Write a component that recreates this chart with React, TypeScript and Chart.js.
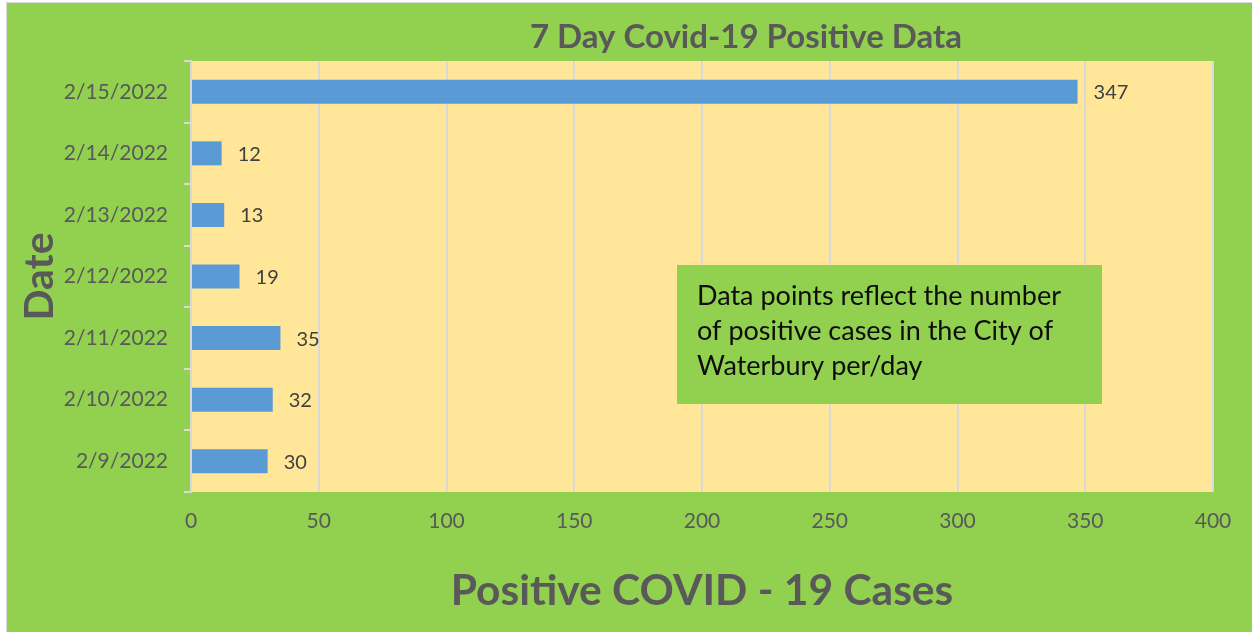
import React, { useEffect, useRef } from "react";
import { Chart, registerables } from "chart.js";

Chart.register(...registerables);

const dates = ["2/9/2022", "2/10/2022", "2/11/2022", "2/12/2022", "2/13/2022", "2/14/2022", "2/15/2022"];
const positiveCases = [30, 32, 35, 19, 13, 12, 347];
const xTickValues = [0, 50, 100, 150, 200, 250, 300, 350, 400];
const chartTitle = "7 Day Covid-19 Positive Data";
const xTitle = "Positive COVID - 19 Cases";
const yTitle = "Date";
const noteLines = ["Data points reflect the number", "of positive cases in the City of", "Waterbury per/day"];

const GREEN = "#92D050";
const PLOT_BG = "#FFE699";
const BAR = "#5B9BD5";
const GRID = "#D9D9D9";
const TEXT = "#595959";
const FONT = "Lato, 'Open Sans', sans-serif";

const decorPlugin = {
  id: "decor",
  beforeDraw(chart: any) {
    const { ctx, width, height, chartArea } = chart;
    ctx.save();
    ctx.fillStyle = "#ffffff";
    ctx.fillRect(0, 0, width, height);
    ctx.fillStyle = GRID;
    ctx.fillRect(6, 2, width - 6, height - 2);
    ctx.fillStyle = GREEN;
    ctx.fillRect(7, 3, width - 7, height - 3);
    ctx.fillStyle = PLOT_BG;
    ctx.fillRect(chartArea.left, chartArea.top, chartArea.right - chartArea.left, chartArea.bottom - chartArea.top);
    ctx.restore();
  },
  afterDraw(chart: any) {
    const { ctx } = chart;
    ctx.save();
    // chart title
    ctx.fillStyle = TEXT;
    ctx.font = `bold 33px ${FONT}`;
    ctx.textAlign = "center";
    ctx.textBaseline = "middle";
    ctx.fillText(chartTitle, 746, 37);

    // data labels
    const meta = chart.getDatasetMeta(0);
    ctx.fillStyle = "#404040";
    ctx.font = `20px ${FONT}`;
    ctx.textAlign = "left";
    meta.data.forEach((bar: any, i: number) => {
      ctx.fillText(String(positiveCases[i]), bar.x + 16, bar.y + 1);
    });

    // note box
    ctx.fillStyle = GREEN;
    ctx.fillRect(677, 265, 425, 139);
    ctx.fillStyle = "#0d0d0d";
    ctx.font = `27px ${FONT}`;
    ctx.textAlign = "left";
    ctx.textBaseline = "middle";
    noteLines.forEach((line, i) => {
      ctx.fillText(line, 697, 296 + i * 35);
    });
    ctx.restore();
  },
};

export default function App() {
  const ref = useRef<HTMLCanvasElement | null>(null);
  useEffect(() => {
    if (!ref.current) return;
    const chart = new Chart(ref.current, {
      type: "bar",
      data: {
        labels: dates,
        datasets: [
          {
            data: positiveCases,
            backgroundColor: BAR,
            borderWidth: 0,
            barPercentage: 0.39,
            categoryPercentage: 1,
          },
        ],
      },
      options: {
        indexAxis: "y",
        responsive: false,
        animation: false,
        devicePixelRatio: 1,
        layout: { padding: { top: 61, right: 39, left: 0, bottom: 0 } },
        plugins: { legend: { display: false }, tooltip: { enabled: false }, title: { display: false } },
        scales: {
          x: {
            type: "linear",
            min: 0,
            max: 400,
            afterBuildTicks(scale: any) {
              scale.ticks = xTickValues.map((v) => ({ value: v }));
            },
            afterFit(scale: any) {
              scale.height = 140;
            },
            grid: { color: GRID, lineWidth: 2, drawTicks: false },
            border: { display: false },
            ticks: { color: TEXT, font: { family: FONT, size: 21 }, padding: 17 },
            title: {
              display: true,
              text: xTitle,
              color: TEXT,
              font: { family: FONT, size: 42.5, weight: "bold" },
              padding: { top: 0, bottom: 15 },
            },
          },
          y: {
            type: "category",
            reverse: true,
            offset: true,
            afterFit(scale: any) {
              scale.width = 191;
            },
            grid: { offset: true, drawOnChartArea: false, drawTicks: true, tickLength: 7, color: GRID, lineWidth: 2 },
            border: { display: true, color: GRID, width: 2 },
            ticks: { color: TEXT, font: { family: FONT, size: 21 }, padding: 16 },
            title: {
              display: true,
              text: yTitle,
              color: TEXT,
              font: { family: FONT, size: 41, weight: "bold" },
              padding: { top: 15, bottom: 0 },
            },
          },
        },
      },
      plugins: [decorPlugin],
    });
    return () => chart.destroy();
  }, []);
  return (
    <div style={{ position: "fixed", left: 0, top: 0, width: 1252, height: 632 }}>
      <canvas ref={ref} width={1252} height={632} style={{ display: "block", width: 1252, height: 632 }} />
    </div>
  );
}
